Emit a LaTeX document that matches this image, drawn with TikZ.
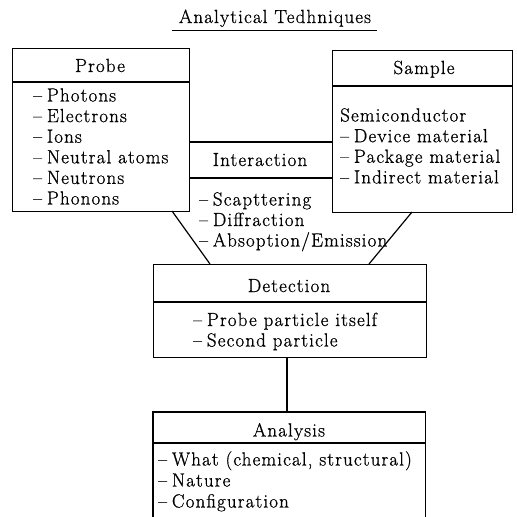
\documentclass[tikz,border=0pt]{standalone}
\usepackage{fontspec}
\setmainfont{Latin Modern Roman}[LetterSpace=6,FakeBold=0.8]
\newcommand\itm[1]{\textendash\kern5pt #1}
\tikzset{
 box/.style={draw, line width=1.2pt, inner sep=0pt, anchor=north west},
 ln/.style={line width=1.2pt},
 txt/.style={anchor=base west, inner sep=0pt},
 ttl/.style={anchor=base, inner sep=0pt},
}
\begin{document}
\begin{tikzpicture}[x=1pt,y=-1pt,font=\fontsize{19}{21}\selectfont]
\useasboundingbox (0,0) rectangle (517,517);
% title
\node[ttl] (title) at (275,23) {Analytical Tedhniques};
\coordinate (ul1) at (172,30);
\coordinate (ul2) at (377,30);
\draw[line width=1pt] (ul1) -- (ul2);
% probe
\node[box, minimum width=177pt, minimum height=163pt] (probe) at (12,48) {};
\draw[ln] (probe.west |- 0,82) -- (probe.east |- 0,82);
\node[ttl] (probeT) at (100,72) {Probe};
\foreach \t [count=\i from 0] in {Photons,Electrons,Ions,Neutral atoms,Neutrons,Phonons}
  \node[txt] (pi\i) at (33,{101.5+20.6*\i}) {\itm{\t}};
% sample
\node[box, minimum width=180pt, minimum height=162pt] (sample) at (332,50) {};
\draw[ln] (sample.west |- 0,86) -- (sample.east |- 0,86);
\node[ttl] (sampleT) at (424,74) {Sample};
\node[txt] (semi) at (340,121.5) {Semiconductor};
\foreach \t [count=\i from 0] in {Device material,Package material,Indirect material}
  \node[txt] (si\i) at (340,{142.2+20.6*\i}) {\itm{\t}};
% interaction
\draw[ln] (probe.east |- 0,142) -- (sample.west |- 0,142);
\draw[ln] (probe.east |- 0,178) -- (sample.west |- 0,178);
\node[ttl] (inter) at (260,166) {Interaction};
\foreach \t [count=\i from 0] in {Scapttering,Diffraction,Absoption/Emission}
  \node[txt] (ii\i) at (199,{205.5+20.5*\i}) {\itm{\t}};
% detection
\node[box, minimum width=273pt, minimum height=93pt] (detect) at (153,264) {};
\draw[ln] (detect.west |- 0,302) -- (detect.east |- 0,302);
\node[ttl] (detectT) at (289,292) {Detection};
\node[txt] (di0) at (193,326) {\itm{Probe particle itself}};
\node[txt] (di1) at (193,346.5) {\itm{Second particle}};
% analysis (open at the bottom)
\node[inner sep=0pt, minimum width=272pt, minimum height=110pt, anchor=north west] (analysis) at (153,412) {};
\draw[ln] (analysis.south west) -- (analysis.north west) -- (analysis.north east) -- (analysis.south east);
\draw[ln] (analysis.west |- 0,443) -- (analysis.east |- 0,443);
\node[ttl] (analysisT) at (289,436.5) {Analysis};
\foreach \t [count=\i from 0] in {{What (chemical, structural)},Nature,Configuration}
  \node[txt] (ai\i) at (158,{465.5+21*\i}) {\itm{\t}};
% connectors
\coordinate (pd1) at (172,211);
\coordinate (pd2) at (210,264);
\coordinate (sd1) at (412,212);
\coordinate (sd2) at (369,264);
\coordinate (da1) at (287,357);
\coordinate (da2) at (287,412);
\draw[ln] (pd1) -- (pd2);
\draw[ln] (sd1) -- (sd2);
\draw[ln] (da1) -- (da2);
\end{tikzpicture}
\end{document}
